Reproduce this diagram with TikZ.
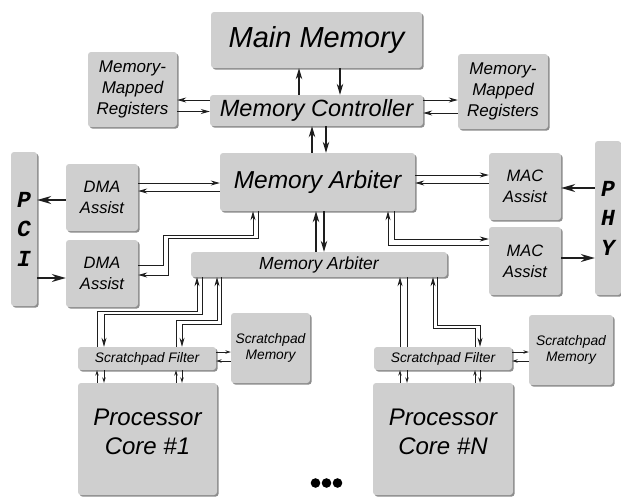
\documentclass[tikz,border=0pt]{standalone}
\usepackage{fontspec}
\setsansfont{Liberation Sans}
\newfontfamily\busfont{Liberation Mono}
\usetikzlibrary{arrows.meta, shadows}
\definecolor{boxgray}{RGB}{207,207,207}
\definecolor{linegray}{RGB}{30,30,30}

\begin{document}
\begin{tikzpicture}[x=1pt, y=-1pt, >=Stealth,
  blk/.style 2 args={fill=boxgray, rounded corners=3pt, inner sep=0pt, align=center,
    drop shadow={shadow xshift=1.6pt, shadow yshift=-1.6pt, fill=black!45, opacity=1},
    font=\sffamily\itshape\fontsize{#1}{#2}\selectfont},
  bus/.style={font=\busfont\bfseries\itshape\fontsize{23}{29.5}\selectfont},
  arr/.style={-{Stealth[length=9pt, width=5pt]}, line width=0.9pt, linegray},
  midarr/.style={-{Stealth[length=11pt, width=6.5pt]}, line width=1.2pt, linegray},
  bigarr/.style={-{Stealth[length=14pt, width=8pt]}, line width=1.4pt, linegray},
  tinyarr/.style={-{Stealth[length=5.5pt, width=3.5pt]}, line width=0.8pt, linegray},
  wire/.style={line width=0.9pt, linegray}]
  \useasboundingbox (0,0) rectangle (621,496);

  % memory side
  \node[blk={29}{33}, minimum width=211pt, minimum height=56pt] (mem) at (316.5,40) {Main Memory};
  \node[blk={23.5}{27}, minimum width=213pt, minimum height=31pt] (ctrl) at (316.5,110.5) {Memory Controller};
  \node[blk={17}{21}, minimum width=89pt, minimum height=75pt] (regl) at (132.5,89.5) {Memory-\\Mapped\\Registers};
  \node[blk={17}{21}, minimum width=90pt, minimum height=75pt] (regr) at (503,91.5) {Memory-\\Mapped\\Registers};
  \node[blk={24.5}{28}, minimum width=195pt, minimum height=58pt] (arb) at (317.5,182) {Memory Arbiter};
  \node[blk={17.5}{20}, minimum width=256pt, minimum height=25pt] (arb2) at (319,264.5) {Memory Arbiter};

  % I/O side
  \node[blk={23}{29.5}, bus, minimum width=26pt, minimum height=154pt] (pci) at (24,229) {P\\C\\I};
  \node[blk={16.5}{21}, minimum width=72pt, minimum height=67pt] (dma1) at (102,197.5) {DMA\\Assist};
  \node[blk={16.5}{21}, minimum width=72pt, minimum height=67pt] (dma2) at (102,273.5) {DMA\\Assist};
  \node[blk={16.5}{21}, minimum width=72pt, minimum height=67pt] (mac1) at (525,186.5) {MAC\\Assist};
  \node[blk={16.5}{21}, minimum width=72pt, minimum height=68pt] (mac2) at (525,261) {MAC\\Assist};
  \node[blk={23}{29.5}, bus, minimum width=26pt, minimum height=154pt] (phy) at (608,218) {P\\H\\Y};

  % cores
  \node[blk={13.8}{16}, minimum width=138pt, minimum height=23pt] (filt1) at (147,358.5) {Scratchpad Filter};
  \node[blk={13.8}{16}, minimum width=79pt, minimum height=70pt] (spad1) at (270.5,348) {Scratchpad\\Memory};
  \node[blk={24}{29}, minimum width=139pt, minimum height=112pt, text depth=15pt] (core1) at (147.5,439) {Processor\\Core \#1};
  \node[blk={13.8}{16}, minimum width=138pt, minimum height=23pt] (filtn) at (443,358.5) {Scratchpad Filter};
  \node[blk={13.8}{16}, minimum width=84pt, minimum height=70pt] (spadn) at (571,350) {Scratchpad\\Memory};
  \node[blk={24}{29}, minimum width=140pt, minimum height=112pt, text depth=15pt] (coren) at (443,439) {Processor\\Core \#N};
  \foreach \i in {0,1,2}
    \fill (315.5+11*\i,483) circle (4.8pt);

  % controller links
  \draw[midarr] ([xshift=-17.5pt]ctrl.north) -- ([xshift=-17.5pt]ctrl.north |- mem.south);
  \draw[midarr] ([xshift=23.5pt]mem.south) -- ([xshift=23.5pt]mem.south |- ctrl.north);
  \draw[midarr] ([xshift=-5.5pt]arb.north) -- ([xshift=-5.5pt]arb.north |- ctrl.south);
  \draw[midarr] ([xshift=8.5pt]arb.north |- ctrl.south) -- ([xshift=8.5pt]arb.north);
  \draw[arr] ([yshift=10.5pt]ctrl.west) -- ([yshift=10.5pt]ctrl.west -| regl.east);
  \draw[arr] ([yshift=-1pt]ctrl.west -| regl.east) -- ([yshift=-1pt]ctrl.west);
  \draw[arr] ([yshift=10.5pt]ctrl.east) -- ([yshift=10.5pt]ctrl.east -| regr.west);
  \draw[arr] ([yshift=-2.5pt]ctrl.east -| regr.west) -- ([yshift=-2.5pt]ctrl.east);

  % DMA and PCI
  \draw[arr] ([yshift=14.5pt]dma1.east) -- ([yshift=14.5pt]dma1.east -| arb.west);
  \draw[arr] ([yshift=6.5pt]dma1.east -| arb.west) -- ([yshift=6.5pt]dma1.east);
  \draw[bigarr] ([yshift=-2.5pt]dma1.west) -- ([yshift=-2.5pt]dma1.west -| pci.east);
  \draw[bigarr] ([yshift=-4.5pt]dma2.west -| pci.east) -- ([yshift=-4.5pt]dma2.west);
  \draw[arr] ([yshift=8.5pt]dma2.east) -| ++(25,-30) -| ([xshift=-64.5pt]arb.south);
  \draw[arr] ([xshift=-59.5pt]arb.south) |- ++(-90,27) |- ([yshift=-1.5pt]dma2.east);

  % MAC and PHY
  \draw[arr] ([yshift=11.5pt]mac1.west -| arb.east) -- ([yshift=11.5pt]mac1.west);
  \draw[arr] ([yshift=3.5pt]mac1.west) -- ([yshift=3.5pt]mac1.west -| arb.east);
  \draw[bigarr] ([yshift=-1.5pt]mac1.east -| phy.west) -- ([yshift=-1.5pt]mac1.east);
  \draw[bigarr] ([yshift=3pt]mac2.east) -- ([yshift=3pt]mac2.east -| phy.west);
  \draw[arr] ([xshift=76.5pt]arb.south) |- ([yshift=22pt]mac2.west);
  \draw[arr] ([yshift=16pt]mac2.west) -| ([xshift=70.5pt]arb.south);

  % arbiter to arbiter
  \draw[midarr] ([xshift=-3pt]arb2.north) -- ([xshift=-3pt]arb2.north |- arb.south);
  \draw[midarr] ([xshift=5pt]arb2.north |- arb.south) -- ([xshift=5pt]arb2.north);

  % arbiter to scratchpad filters
  \draw[arr] ([xshift=-50pt]filt1.north) -- ++(0,-35) -| ([xshift=-122pt]arb2.south);
  \draw[arr] ([xshift=-117pt]arb2.south) -- ++(0,37) -| ([xshift=-43pt]filt1.north);
  \draw[arr] ([xshift=29pt]filt1.north) -- ++(0,-26) -| ([xshift=-102pt]arb2.south);
  \draw[arr] ([xshift=-98pt]arb2.south) -- ++(0,47) -| ([xshift=35pt]filt1.north);
  \draw[arr] ([xshift=-43pt]filtn.north) -- ([xshift=-43pt]filtn.north |- arb2.south);
  \draw[wire] ([xshift=-36pt]filtn.north |- arb2.south) -- ([xshift=-36pt]filtn.north);
  \draw[arr] ([xshift=32pt]filtn.north) -- ++(0,-18) -| ([xshift=114pt]arb2.south);
  \draw[arr] ([xshift=118pt]arb2.south) -- ++(0,48) -| ([xshift=37pt]filtn.north);

  % filters to cores and scratchpads
  \foreach \f/\c/\u/\d in {filt1/core1/-50/-43, filt1/core1/29/35, filtn/coren/-43/-36, filtn/coren/32/37} {
    \draw[tinyarr] ([xshift=\u pt]\f.south |- \c.north) -- ([xshift=\u pt]\f.south);
    \draw[tinyarr] ([xshift=\d pt]\f.south) -- ([xshift=\d pt]\f.south |- \c.north);
  }
  \foreach \f/\s in {filt1/spad1, filtn/spadn} {
    \draw[tinyarr] ([yshift=6.5pt]\f.east) -- ([yshift=6.5pt]\f.east -| \s.west);
    \draw[tinyarr] ([yshift=-2.5pt]\f.east -| \s.west) -- ([yshift=-2.5pt]\f.east);
  }
\end{tikzpicture}
\end{document}
